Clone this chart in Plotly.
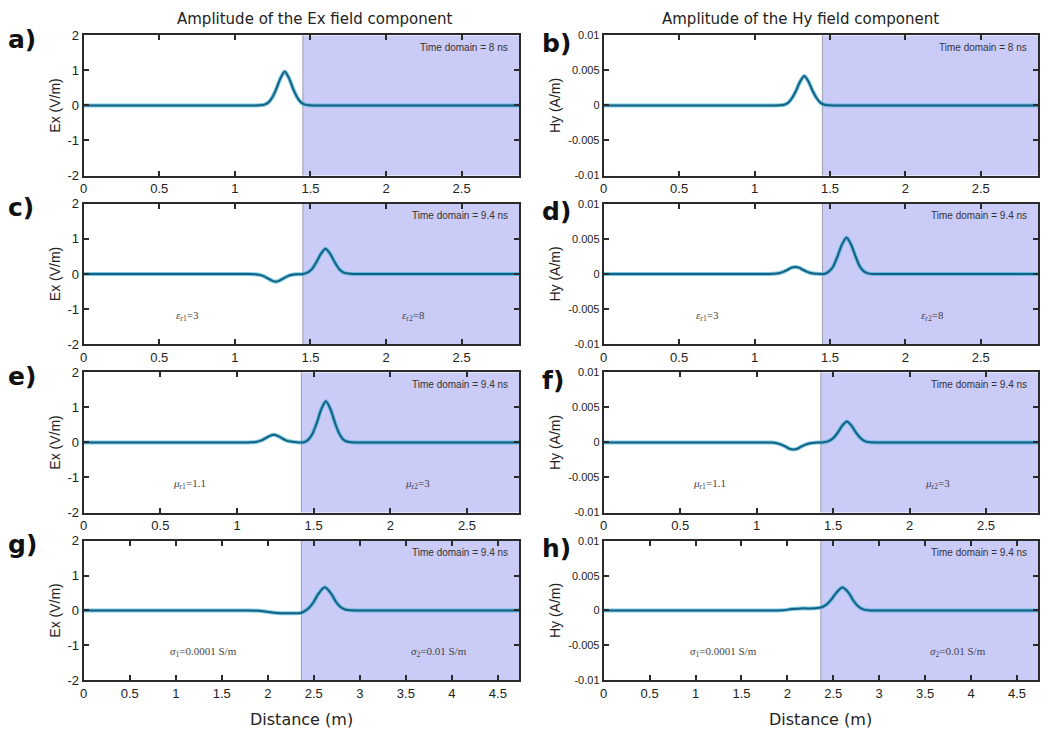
import plotly.graph_objects as go
from plotly.subplots import make_subplots

# x extents and interface positions (m)
x_end = [2.88, 2.88, 2.84, 4.73]
iface = [1.45, 1.45, 1.42, 2.365]

# a) Ex, t = 8 ns
a_x = [0, 1.12, 1.17, 1.20, 1.225, 1.25, 1.275, 1.30, 1.33, 1.36, 1.385, 1.41, 1.435, 1.46, 1.49, 1.55, 2.88]
a_y = [0, 0, 0.005, 0.03, 0.10, 0.25, 0.48, 0.76, 0.97, 0.76, 0.48, 0.25, 0.10, 0.03, 0.005, 0, 0]
# b) Hy, t = 8 ns
b_x = [0, 1.12, 1.17, 1.20, 1.225, 1.25, 1.275, 1.30, 1.33, 1.36, 1.385, 1.41, 1.435, 1.46, 1.49, 1.55, 2.88]
b_y = [0, 0, 0.00002, 0.00013, 0.00043, 0.0011, 0.0021, 0.0033, 0.0042, 0.0033, 0.0021, 0.0011,
       0.00043, 0.00013, 0.00002, 0, 0]
# c) Ex, permittivity contrast
c_x = [0, 1.08, 1.13, 1.16, 1.19, 1.22, 1.245, 1.27, 1.295, 1.32, 1.35, 1.38, 1.41, 1.45, 1.48,
       1.51, 1.54, 1.57, 1.60, 1.63, 1.66, 1.69, 1.72, 1.75, 1.79, 1.85, 2.88]
c_y = [0, 0, -0.005, -0.02, -0.06, -0.13, -0.19, -0.22, -0.19, -0.13, -0.06, -0.025, -0.01, 0, 0.04,
       0.14, 0.34, 0.58, 0.72, 0.58, 0.34, 0.14, 0.04, 0.01, 0, 0, 0]
# d) Hy, permittivity contrast
d_x = [0, 1.08, 1.13, 1.16, 1.19, 1.22, 1.245, 1.27, 1.295, 1.32, 1.35, 1.38, 1.41, 1.46, 1.49,
       1.52, 1.55, 1.58, 1.61, 1.64, 1.67, 1.70, 1.73, 1.76, 1.80, 1.86, 2.88]
d_y = [0, 0, 0.00002, 0.0001, 0.0003, 0.0006, 0.0009, 0.001, 0.0009, 0.0006, 0.0003, 0.0001, 0.00003,
       0, 0.0003, 0.001, 0.0025, 0.0042, 0.0052, 0.0042, 0.0025, 0.001, 0.0003, 0.00005, 0, 0, 0]
# e) Ex, permeability contrast
e_x = [0, 1.05, 1.10, 1.13, 1.16, 1.19, 1.215, 1.24, 1.265, 1.29, 1.32, 1.35, 1.38, 1.43, 1.46,
       1.49, 1.52, 1.55, 1.58, 1.61, 1.64, 1.67, 1.70, 1.73, 1.77, 1.83, 2.84]
e_y = [0, 0, 0.005, 0.02, 0.06, 0.13, 0.19, 0.22, 0.19, 0.13, 0.06, 0.025, 0.01, 0, 0.06,
       0.23, 0.55, 0.95, 1.18, 0.95, 0.55, 0.23, 0.06, 0.015, 0, 0, 0]
# f) Hy, permeability contrast
f_x = [0, 1.05, 1.10, 1.13, 1.16, 1.19, 1.215, 1.24, 1.265, 1.29, 1.32, 1.35, 1.38, 1.43, 1.47,
       1.50, 1.53, 1.56, 1.59, 1.62, 1.65, 1.68, 1.71, 1.74, 1.78, 1.84, 2.84]
f_y = [0, 0, -0.00002, -0.0001, -0.0003, -0.0006, -0.0009, -0.001, -0.0009, -0.0006, -0.0003, -0.0001,
       -0.00003, 0, 0.0002, 0.0006, 0.0014, 0.0024, 0.003, 0.0024, 0.0014, 0.0006, 0.00015, 0.00003, 0, 0, 0]
# g) Ex, conductivity contrast
g_x = [0, 1.80, 1.90, 2.00, 2.10, 2.20, 2.30, 2.36, 2.40, 2.45, 2.50, 2.55, 2.62, 2.69, 2.74,
       2.79, 2.84, 2.90, 3.00, 4.73]
g_y = [0, 0, -0.01, -0.04, -0.07, -0.08, -0.08, -0.07, -0.02, 0.08, 0.25, 0.48, 0.67, 0.48, 0.25,
       0.10, 0.03, 0.005, 0, 0]
# h) Hy, conductivity contrast
h_x = [0, 1.85, 1.95, 2.05, 2.15, 2.25, 2.33, 2.38, 2.43, 2.48, 2.53, 2.60, 2.67, 2.72, 2.77,
       2.82, 2.88, 2.98, 4.73]
h_y = [0, 0, 0.00003, 0.0002, 0.0003, 0.0003, 0.00035, 0.0005, 0.0009, 0.0016, 0.0025, 0.0033,
       0.0025, 0.0014, 0.0006, 0.0002, 0.00003, 0, 0]

curves = [(a_x, a_y), (b_x, b_y), (c_x, c_y), (d_x, d_y),
          (e_x, e_y), (f_x, f_y), (g_x, g_y), (h_x, h_y)]
panel_tags = ["a)", "b)", "c)", "d)", "e)", "f)", "g)", "h)"]
time_labels = ["Time domain = 8 ns", "Time domain = 8 ns"] + ["Time domain = 9.4 ns"] * 6
left_media = [None, "<i>ε</i><sub>r1</sub>=3", "<i>μ</i><sub>r1</sub>=1.1", "<i>σ</i><sub>1</sub>=0.0001 S/m"]
right_media = [None, "<i>ε</i><sub>r2</sub>=8", "<i>μ</i><sub>r2</sub>=3", "<i>σ</i><sub>2</sub>=0.01 S/m"]
media_x = [(0.69, 2.21), (0.69, 2.18), (0.69, 2.18), (1.30, 3.86)]

ex_ticks = [-2, -1, 0, 1, 2]
ex_text = ["-2", "-1", "0", "1", "2"]
hy_ticks = [-0.01, -0.005, 0, 0.005, 0.01]
hy_text = ["-0.01", "-0.005", "0", "0.005", "0.01"]
x_ticks_short = [0, 0.5, 1, 1.5, 2, 2.5]
x_ticks_long = [0, 0.5, 1, 1.5, 2, 2.5, 3, 3.5, 4, 4.5]

W, H = 1052, 738
col_px = [(80, 517), (602, 1038)]
row_px = [(29, 172), (201, 344), (373, 516), (545, 687)]

HALO = "#3fb4dc"
LINE = "#17607f"
SHADE = "#cbcbf8"
AXIS = "#2b2b2b"

fig = make_subplots(rows=4, cols=2)

for r in range(4):
    for c in range(2):
        k = r * 2 + c
        n = k + 1
        xs, ys = curves[k]
        fig.add_trace(go.Scatter(x=xs, y=ys, mode="lines",
                                 line=dict(color=HALO, width=4, shape="spline", smoothing=0.8),
                                 opacity=0.7, showlegend=False, hoverinfo="skip"), row=r + 1, col=c + 1)
        fig.add_trace(go.Scatter(x=xs, y=ys, mode="lines",
                                 line=dict(color=LINE, width=2, shape="spline", smoothing=0.8),
                                 showlegend=False, hoverinfo="skip"), row=r + 1, col=c + 1)
        x0, x1 = col_px[c]
        t0, t1 = row_px[r]
        xa = "xaxis" if n == 1 else f"xaxis{n}"
        ya = "yaxis" if n == 1 else f"yaxis{n}"
        xt = x_ticks_long if r == 3 else x_ticks_short
        fig.update_layout({
            xa: dict(domain=[x0 / W, x1 / W], range=[0, x_end[r]], tickvals=xt,
                     ticktext=[f"{v:g}" for v in xt], ticks="inside", ticklen=5, tickwidth=1.5,
                     tickcolor=AXIS, showline=True, linecolor=AXIS, linewidth=2, mirror="ticks",
                     showgrid=False, zeroline=False, tickfont=dict(size=13, color="#222"),
                     anchor=f"y{n}"),
            ya: dict(domain=[1 - t1 / H, 1 - t0 / H],
                     range=[-2, 2] if c == 0 else [-0.01, 0.01],
                     tickvals=ex_ticks if c == 0 else hy_ticks,
                     ticktext=ex_text if c == 0 else hy_text,
                     ticks="inside", ticklen=5, tickwidth=1.5, tickcolor=AXIS,
                     showline=True, linecolor=AXIS, linewidth=2, mirror="ticks",
                     showgrid=False, zeroline=False,
                     tickfont=dict(size=13 if c == 0 else 11, color="#222"),
                     title=dict(text="Ex (V/m)" if c == 0 else "Hy (A/m)",
                                font=dict(size=14, color="#222"), standoff=4),
                     anchor=f"x{n}"),
        })
        xref = "x" if n == 1 else f"x{n}"
        yref = "y" if n == 1 else f"y{n}"
        fig.add_shape(type="rect", xref=xref, yref=f"{yref} domain", x0=iface[r], x1=x_end[r],
                      y0=0, y1=1, fillcolor=SHADE, line=dict(width=0), layer="below")
        fig.add_shape(type="line", xref=xref, yref=f"{yref} domain", x0=iface[r], x1=iface[r],
                      y0=0, y1=1, line=dict(color="#9c9cae", width=1), layer="below")

        fig.add_annotation(x=0.98, y=0.915, xref=f"{xref} domain", yref=f"{yref} domain",
                           text=time_labels[k], showarrow=False, xanchor="right", yanchor="middle",
                           font=dict(family="Liberation Sans", size=10, color="#333"))
        if left_media[r]:
            scale = 1 if c == 0 else 0.005
            fig.add_annotation(x=media_x[r][0], y=-1.2 * scale, xref=xref, yref=yref,
                               text=left_media[r], showarrow=False,
                               font=dict(family="Liberation Serif", size=11, color="#444"))
            fig.add_annotation(x=media_x[r][1], y=-1.2 * scale, xref=xref, yref=yref,
                               text=right_media[r], showarrow=False,
                               font=dict(family="Liberation Serif", size=11, color="#444"))

        tag_x = 2 / W if c == 0 else 538 / W
        tag_y = t0 + 4 if c == 0 else t0 + 8
        fig.add_annotation(x=tag_x, y=1 - tag_y / H, xref="paper", yref="paper",
                           text=f"<b>{panel_tags[k]}</b>", showarrow=False,
                           xanchor="left", yanchor="middle",
                           font=dict(family="DejaVu Sans", size=25, color="#111"))

fig.add_annotation(x=312 / W, y=1 - 12 / H, xref="paper", yref="paper",
                   text="Amplitude of the Ex field component", showarrow=False,
                   xanchor="center", yanchor="middle",
                   font=dict(family="DejaVu Sans", size=15, color="#222"))
fig.add_annotation(x=800 / W, y=1 - 12 / H, xref="paper", yref="paper",
                   text="Amplitude of the Hy field component", showarrow=False,
                   xanchor="center", yanchor="middle",
                   font=dict(family="DejaVu Sans", size=15, color="#222"))
for c in range(2):
    fig.add_annotation(x=(col_px[c][0] + col_px[c][1]) / 2 / W, y=1 - 727 / H, xref="paper", yref="paper",
                       text="Distance (m)", showarrow=False, xanchor="center", yanchor="middle",
                       font=dict(family="DejaVu Sans", size=16, color="#222"))

fig.update_layout(width=W, height=H, margin=dict(l=0, r=0, t=0, b=0),
                  paper_bgcolor="white", plot_bgcolor="white",
                  font=dict(family="Liberation Sans"))

fig.write_html("out.html", config={"displayModeBar": False},
               post_script="document.body.style.margin='0px';")
